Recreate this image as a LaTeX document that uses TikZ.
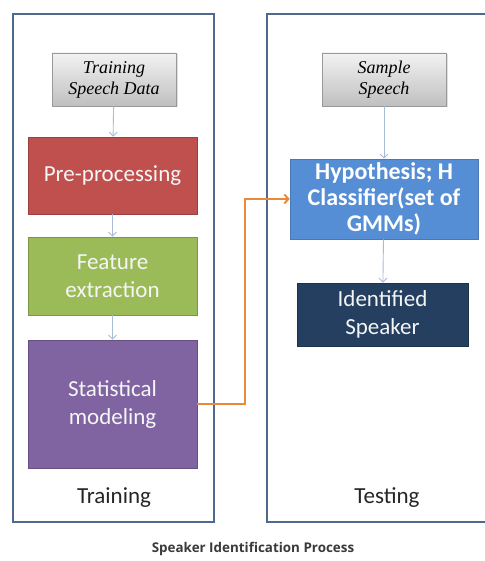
\documentclass[tikz,border=0pt]{standalone}
\usepackage{fontspec}
\setmainfont{Carlito}
\newfontfamily\seriffont{Liberation Serif}
\newfontfamily\capfont{Open Sans}
\usetikzlibrary{arrows.meta,shadows}

\definecolor{framecol}{HTML}{4F6A8F}
\definecolor{flowcol}{HTML}{A9BCD6}
\definecolor{redbox}{HTML}{C0504D}
\definecolor{greenbox}{HTML}{9BBB59}
\definecolor{purplebox}{HTML}{8064A2}
\definecolor{bluebox}{HTML}{558ED5}
\definecolor{navybox}{HTML}{243F60}
\definecolor{linkcol}{HTML}{E88A3A}
\definecolor{captext}{HTML}{3A3A3A}

\tikzset{
  frame/.style={draw=framecol, line width=2pt},
  inputbox/.style={draw=gray!80, line width=0.8pt, top color=white!95!black,
    bottom color=black!25, align=center, font=\seriffont\itshape\fontsize{18}{21}\selectfont,
    inner sep=0pt, drop shadow={opacity=0.25, shadow xshift=1.5pt, shadow yshift=-1.5pt}},
  stagebox/.style={line width=0.6pt, align=center, text=white!96!black,
    font=\fontsize{23}{28}\selectfont, inner sep=0pt},
  flow/.style={draw=flowcol, line width=0.9pt, -{Straight Barb[length=4pt,width=8pt]}},
  link/.style={draw=linkcol, line width=2pt, -{Straight Barb[length=4pt,width=9pt]}},
  sectionlabel/.style={font=\fontsize{23}{26}\selectfont, text=black!85}
}

\begin{document}
\begin{tikzpicture}[x=1pt,y=-1pt]
\useasboundingbox[fill=white] (0,0) rectangle (484,561);

% two section frames (the right one runs off the page edge)
\draw[frame] (13,14) rectangle (214,522);
\draw[frame] (490,14) -- (267,14) -- (267,522) -- (490,522);

% training column
\node[inputbox, minimum width=124pt, minimum height=53pt] (tsd) at (114,79.5)
  {Training\\Speech Data};
\node[stagebox, draw=redbox!80!black, fill=redbox, minimum width=169pt, minimum height=77pt]
  (pre) at (112.5,175.5) {Pre-processing};
\node[stagebox, draw=greenbox!80!black, fill=greenbox, minimum width=169pt, minimum height=78pt]
  (feat) at (112.5,276) {Feature\\extraction};
\node[stagebox, draw=purplebox!80!black, fill=purplebox, minimum width=169pt, minimum height=128pt]
  (stat) at (112.5,404) {Statistical\\modeling};
\node[sectionlabel] (trainlbl) at (114,498) {Training};

% testing column
\node[inputbox, minimum width=124pt, minimum height=53pt] (ss) at (384,79.5)
  {Sample\\Speech};
\node[stagebox, draw=bluebox!85!black, fill=bluebox, minimum width=188pt, minimum height=80pt,
  font=\bfseries\fontsize{24}{26}\selectfont, text=white] (hyp) at (384,199)
  {Hypothesis; H\\Classifier(set of\\GMMs)};
\node[stagebox, draw=navybox!80!black, fill=navybox, minimum width=171pt, minimum height=63pt]
  (ident) at (382.5,314.5) {Identified\\Speaker};
\node[sectionlabel] (testlbl) at (387,498) {Testing};

% flow arrows
\draw[flow] (tsd) -- (pre);
\draw[flow] (pre) -- (feat);
\draw[flow] (feat) -- (stat);
\draw[flow] (ss) -- (hyp);
\draw[flow] (hyp) -- (ident);

% trained models feed the classifier
\coordinate (bendx) at (245,0);
\draw[link] (stat.east) -- (stat.east -| bendx) |- (hyp.west);

% caption
\node[font=\capfont\bfseries\fontsize{13.4}{15}\selectfont, text=captext] (caption) at (253,549)
  {Speaker Identification Process};
\end{tikzpicture}
\end{document}
